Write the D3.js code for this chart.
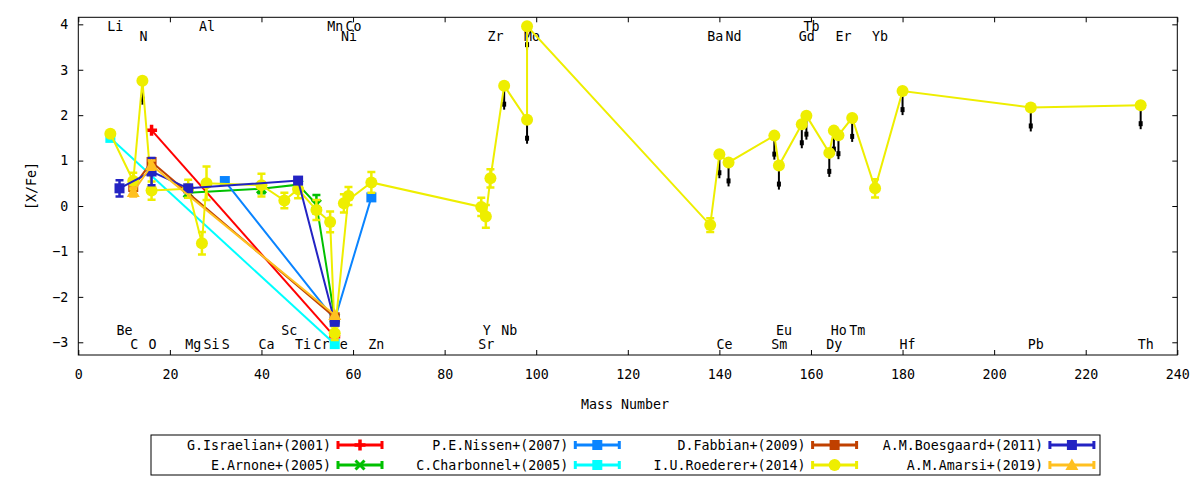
<!DOCTYPE html>
<html>
<head>
<meta charset="utf-8">
<script src="https://cdn.jsdelivr.net/npm/d3@7"></script>
<style>
body { margin: 0; background: #fff; }
text { font-family: "DejaVu Sans Mono", monospace; font-size: 13.3px; fill: #000; }
</style>
</head>
<body>
<svg></svg>
<script>
// abundances [X/Fe] vs mass number, one array per source
// e = error bar half size, ul = upper limit (black arrow)
const israelian = [
    {el: "O", m: 16, v: 1.67}, {el: "Fe", m: 56, v: -2.88}
];
const arnone = [
    {el: "Mg", m: 24, v: 0.29, e: 0.1}, {el: "Ca", m: 40, v: 0.38, e: 0.1},
    {el: "Ti", m: 48, v: 0.47, e: 0.1}, {el: "Cr", m: 52, v: 0.04, e: 0.2},
    {el: "Fe", m: 56, v: -2.47}
];
const nissen = [
    {el: "S", m: 32, v: 0.55}, {el: "Fe", m: 56, v: -2.50}, {el: "Zn", m: 64, v: 0.19}
];
const charbonnel = [
    {el: "Li", m: 7, v: 1.50}, {el: "Fe", m: 56, v: -3.04}
];
const fabbian = [
    {el: "C", m: 12, v: 0.42}, {el: "O", m: 16, v: 0.97}, {el: "Fe", m: 56, v: -2.45}
];
const roederer = [
    {el: "Li", m: 7, v: 1.59}, {el: "C", m: 12, v: 0.55, e: 0.18},
    {el: "N", m: 14, v: 2.76, ul: true}, {el: "O", m: 16, v: 0.34, e: 0.2},
    {el: "Mg", m: 24, v: 0.38, e: 0.2}, {el: "Al", m: 27, v: -0.82, e: 0.25},
    {el: "Si", m: 28, v: 0.50, e: 0.37}, {el: "Ca", m: 40, v: 0.46, e: 0.25},
    {el: "Sc", m: 45, v: 0.12, e: 0.17}, {el: "Ti", m: 48, v: 0.37, e: 0.2},
    {el: "Cr", m: 52, v: -0.09, e: 0.22}, {el: "Mn", m: 55, v: -0.35, e: 0.23},
    {el: "Fe", m: 56, v: -2.80, e: 0.15}, {el: "Co", m: 59, v: 0.22, e: 0.2},
    {el: "Ni", m: 58, v: 0.06, e: 0.2}, {el: "Zn", m: 64, v: 0.52, e: 0.23},
    {el: "Sr", m: 88, v: -0.02, e: 0.2}, {el: "Y", m: 89, v: -0.23, e: 0.25},
    {el: "Zr", m: 90, v: 0.61, e: 0.2}, {el: "Nb", m: 93, v: 2.65, ul: true},
    {el: "Mo", m: 98, v: 1.90, ul: true}, {el: "Tc", m: 98, v: 3.96, ul: true},
    {el: "Ba", m: 138, v: -0.42, e: 0.15}, {el: "Ce", m: 140, v: 1.14, ul: true},
    {el: "Nd", m: 142, v: 0.96, ul: true}, {el: "Sm", m: 152, v: 1.55, ul: true},
    {el: "Eu", m: 153, v: 0.89, ul: true}, {el: "Gd", m: 158, v: 1.80, ul: true},
    {el: "Tb", m: 159, v: 1.99, ul: true}, {el: "Dy", m: 164, v: 1.17, ul: true},
    {el: "Ho", m: 165, v: 1.66, ul: true}, {el: "Er", m: 166, v: 1.56, ul: true},
    {el: "Tm", m: 169, v: 1.94, ul: true}, {el: "Yb", m: 174, v: 0.39, e: 0.2},
    {el: "Hf", m: 180, v: 2.53, ul: true}, {el: "Pb", m: 208, v: 2.17, ul: true},
    {el: "Th", m: 232, v: 2.22, ul: true}
];
const boesgaard = [
    {el: "Be", m: 9, v: 0.39, e: 0.18}, {el: "O", m: 16, v: 0.76, e: 0.3},
    {el: "Mg", m: 24, v: 0.39}, {el: "Ti", m: 48, v: 0.56}, {el: "Fe", m: 56, v: -2.55}
];
const amarsi = [
    {el: "C", m: 12, v: 0.31, e: 0.1}, {el: "O", m: 16, v: 0.90, e: 0.1},
    {el: "Fe", m: 56, v: -2.40}
];

// element names written along top and bottom of the frame
const labelsTop = [["Li", 7], ["Al", 27], ["Mn", 55], ["Co", 59], ["Tb", 159]];
const labelsTop2 = [["N", 14], ["Ni", 58], ["Zr", 90], ["Mo", 98], ["Ba", 138], ["Nd", 142],
    ["Gd", 158], ["Er", 166], ["Yb", 174]];
const labelsBot = [["Be", 9], ["Sc", 45], ["Y", 89], ["Nb", 93], ["Eu", 153], ["Ho", 165], ["Tm", 169]];
const labelsBot2 = [["C", 12], ["O", 16], ["Mg", 24], ["Si", 28], ["S", 32], ["Ca", 40], ["Ti", 48],
    ["Cr", 52], ["Fe", 56], ["Zn", 64], ["Sr", 88], ["Ce", 140], ["Sm", 152], ["Dy", 164],
    ["Hf", 180], ["Pb", 208], ["Th", 232]];

const xTicks = d3.range(0, 241, 20);
const yTicks = [-3, -2, -1, 0, 1, 2, 3, 4];

const series = [
    {name: "G.Israelian+(2001)", data: israelian, color: "#ff0000", mark: "plus"},
    {name: "E.Arnone+(2005)", data: arnone, color: "#00c000", mark: "cross"},
    {name: "P.E.Nissen+(2007)", data: nissen, color: "#0a84ff", mark: "square"},
    {name: "C.Charbonnel+(2005)", data: charbonnel, color: "#00ffff", mark: "square"},
    {name: "D.Fabbian+(2009)", data: fabbian, color: "#c04000", mark: "square"},
    {name: "I.U.Roederer+(2014)", data: roederer, color: "#eeee00", mark: "circle"},
    {name: "A.M.Boesgaard+(2011)", data: boesgaard, color: "#2323c3", mark: "square"},
    {name: "A.M.Amarsi+(2019)", data: amarsi, color: "#ffc020", mark: "triangle"}
];

const width = 1200;
const height = 480;
const svg = d3.select("svg").attr("width", width).attr("height", height);

const x = d3.scaleLinear().domain([0, 240]).range([78.3, 1177.3]);
const y = d3.scaleLinear().domain([-3.28, 4.155]).range([355, 17.3]);

// axes, ticks pointing inwards and mirrored
svg.append("g").attr("transform", "translate(0,355)")
    .call(d3.axisBottom(x).tickValues(xTicks).tickSize(-5).tickPadding(15));
svg.append("g").attr("transform", "translate(0,17.3)")
    .call(d3.axisTop(x).tickValues(xTicks).tickSize(-5).tickFormat(""));
svg.append("g").attr("transform", "translate(78.3,0)")
    .call(d3.axisLeft(y).tickValues(yTicks).tickSize(-5).tickPadding(10));
svg.append("g").attr("transform", "translate(1177.3,0)")
    .call(d3.axisRight(y).tickValues(yTicks).tickSize(-5).tickFormat(""));
svg.selectAll(".domain").remove();
svg.selectAll(".tick line").attr("stroke", "#000");
svg.selectAll(".tick text").attr("font-family", null).attr("font-size", null).attr("fill", null);

svg.append("rect").attr("x", 78.3).attr("y", 17.3)
    .attr("width", 1099).attr("height", 337.7)
    .attr("fill", "none").attr("stroke", "#000");

svg.append("text").attr("x", 625).attr("y", 409).attr("text-anchor", "middle").text("Mass Number");
svg.append("text").attr("transform", "translate(36,186) rotate(-90)")
    .attr("text-anchor", "middle").text("[X/Fe]");

// element name rows
[[labelsTop, 3.96], [labelsTop2, 3.74], [labelsBot, -2.74], [labelsBot2, -3.05]].forEach(([rows, lv]) => {
    svg.append("g").selectAll("text").data(rows).join("text")
        .attr("x", d => x(d[1]) - 3)
        .attr("y", y(lv))
        .attr("dy", "0.35em")
        .text(d => d[0]);
});

let drawMark = (g, type, cx, cy, color) => {
    if (type == "circle") {
        g.append("circle").attr("cx", cx).attr("cy", cy).attr("r", 6).attr("fill", color);
    } else if (type == "square") {
        g.append("rect").attr("x", cx - 5).attr("y", cy - 5)
            .attr("width", 10).attr("height", 10).attr("fill", color);
    } else if (type == "triangle") {
        g.append("path").attr("d", `M${cx - 6.5},${cy + 5}L${cx + 6.5},${cy + 5}L${cx},${cy - 6.5}Z`)
            .attr("fill", color);
    } else if (type == "plus") {
        g.append("path").attr("d", `M${cx - 5.5},${cy}H${cx + 5.5}M${cx},${cy - 5.5}V${cy + 5.5}`)
            .attr("stroke", color).attr("stroke-width", 3.5);
    } else if (type == "cross") {
        g.append("path").attr("d", `M${cx - 4.5},${cy - 4.5}L${cx + 4.5},${cy + 4.5}M${cx - 4.5},${cy + 4.5}L${cx + 4.5},${cy - 4.5}`)
            .attr("stroke", color).attr("stroke-width", 3);
    }
};

let errBar = (g, cx, y1, y2, color) => {
    g.append("path")
        .attr("d", `M${cx},${y1}V${y2}M${cx - 4},${y1}H${cx + 4}M${cx - 4},${y2}H${cx + 4}`)
        .attr("stroke", color).attr("stroke-width", 2.5).attr("fill", "none");
};

const line = d3.line().x(d => x(d.m)).y(d => y(d.v));

series.forEach(s => {
    const g = svg.append("g");
    if (s.data == roederer) {
        // upper limits: short black arrows pointing down
        s.data.filter(d => d.ul).forEach(d => {
            const px = x(d.m), py = y(d.v);
            g.append("path").attr("d", `M${px},${py}V${py + 24}`)
                .attr("stroke", "#000").attr("stroke-width", 2);
            g.append("rect").attr("x", px - 2).attr("y", py + 16)
                .attr("width", 4).attr("height", 5).attr("fill", "#000");
        });
    }
    g.append("path").datum(s.data).attr("d", line)
        .attr("fill", "none").attr("stroke", s.color).attr("stroke-width", 2);
    s.data.filter(d => d.e).forEach(d => errBar(g, x(d.m), y(d.v + d.e), y(d.v - d.e), s.color));
    s.data.forEach(d => drawMark(g, s.mark, x(d.m), y(d.v), s.color));
});

// legend, filled column by column
const legend = svg.append("g");
legend.append("rect").attr("x", 151).attr("y", 435).attr("width", 949).attr("height", 40)
    .attr("fill", "none").attr("stroke", "#000");
series.forEach((s, i) => {
    const col = Math.floor(i / 2), row = i % 2;
    const tx = 331 + col * 237.3, ty = 445 + row * 20;
    legend.append("text").attr("x", tx).attr("y", ty).attr("dy", "0.35em")
        .attr("text-anchor", "end").text(s.name);
    const x1 = tx + 7, x2 = tx + 51;
    legend.append("path")
        .attr("d", `M${x1},${ty}H${x2}M${x1},${ty - 4}V${ty + 4}M${x2},${ty - 4}V${ty + 4}`)
        .attr("stroke", s.color).attr("stroke-width", 3).attr("fill", "none");
    drawMark(legend, s.mark, (x1 + x2) / 2, ty, s.color);
});
</script>
</body>
</html>
